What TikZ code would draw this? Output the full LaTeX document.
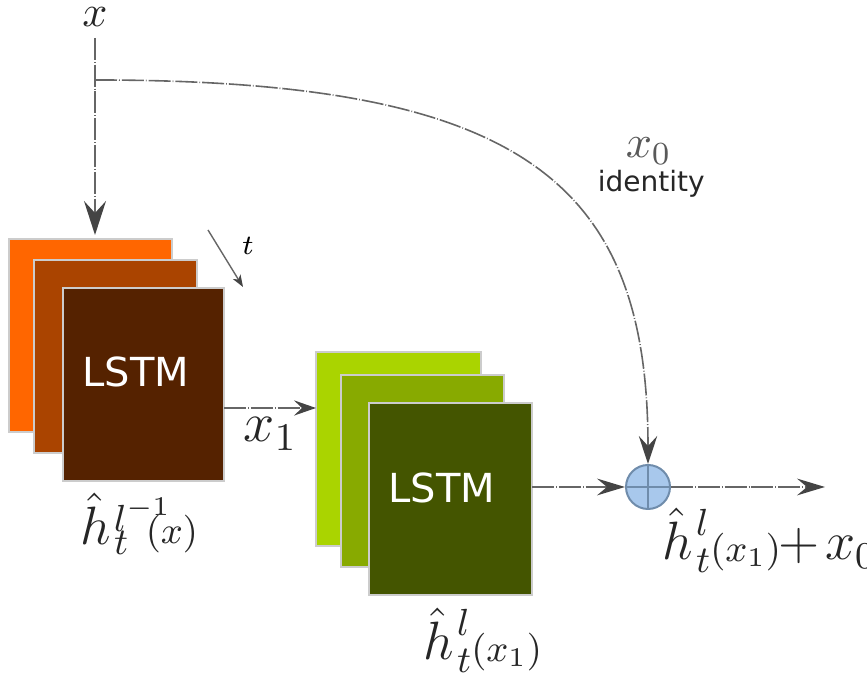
\RequirePackage{fix-cm}
\documentclass[tikz,border=0pt]{standalone}
\usepackage{fontspec}
\newfontfamily\dejavu{DejaVu Sans}
\usetikzlibrary{arrows.meta}

\definecolor{orA}{HTML}{FF6600}
\definecolor{orB}{HTML}{AA4400}
\definecolor{orC}{HTML}{552200}
\definecolor{grA}{HTML}{AAD400}
\definecolor{grB}{HTML}{88AA00}
\definecolor{grC}{HTML}{445500}
\definecolor{sumfill}{HTML}{A8C8EC}
\definecolor{sumedge}{HTML}{6F8CAB}
\definecolor{wire}{HTML}{666666}
\definecolor{tipcol}{HTML}{444444}

% \hatlabel{sup}{sup raise}{sub}{sub drop}: compact sub/superscripts on \hat{h}
\newcommand{\hatlabel}[4]{%
  \hat{h}\mkern1mu\rlap{\raisebox{#2}{$\scriptstyle #1$}}\raisebox{-#4}{$\scriptstyle #3$}}
% raised argument group inside a subscript
\newcommand{\liftsub}[1]{\raisebox{2.75pt}{$\scriptstyle #1$}}

\begin{document}
\begin{tikzpicture}[x=0.25pt,y=-0.25pt,
  layer/.style={draw=black!20, line width=0.35pt, inner sep=0pt, outer sep=0pt, anchor=north west},
  celltext/.style={text=white, font=\dejavu\fontsize{10}{12}\selectfont, inner sep=0pt},
  flow/.style={draw=wire, line width=0.4pt,
    dash pattern=on 5.5pt off 0.5pt on 0.2pt off 0.5pt,
    -{Stealth[length=7pt,width=4.2pt,inset=2.5pt,color=tipcol]}},
  mathlbl/.style={inner sep=0pt, anchor=base west, text=black!85},
  bigmath/.style={font=\fontsize{13.5}{16}\selectfont}]
\useasboundingbox (0,0) rectangle (867,680);

% first LSTM layer (stack of three time steps)
\node[layer, fill=orA, minimum width=40.75pt, minimum height=48.25pt] (oa) at (9,239) {};
\node[layer, fill=orB, minimum width=40.75pt, minimum height=48.25pt] (ob) at (34,260) {};
\node[layer, fill=orC, minimum width=40.25pt, minimum height=48.25pt] (oc) at (63,288) {};
\node[celltext] (lstmA) at (136,372) {LSTM};

% second LSTM layer
\node[layer, fill=grA, minimum width=41.25pt, minimum height=48.5pt] (ga) at (316,352) {};
\node[layer, fill=grB, minimum width=40.75pt, minimum height=48pt] (gb) at (341,375) {};
\node[layer, fill=grC, minimum width=40.75pt, minimum height=48pt] (gc) at (369,403) {};
\node[celltext] (lstmB) at (442,488) {LSTM};

% summation node
\node[circle, draw=sumedge, fill=sumfill, line width=0.5pt, minimum size=11pt, inner sep=0pt,
  path picture={\draw[sumedge, line width=0.5pt]
    (path picture bounding box.north) -- (path picture bounding box.south)
    (path picture bounding box.west) -- (path picture bounding box.east);}] (plus) at (648,487) {};

% input
\node[mathlbl, anchor=base, font=\fontsize{11}{13}\selectfont] (xin) at (95,27) {$x$};
\coordinate (split) at (95,80);
\draw[flow, shorten <=2.5pt, shorten >=1pt, -{Stealth[length=8.5pt,width=5.5pt,inset=3pt,color=tipcol]}]
  (xin.south) -- (xin |- oa.north);

% identity shortcut
\draw[flow, -{Stealth[length=7pt,width=4.6pt,inset=2.5pt,color=tipcol]}]
  (split) .. controls (520,80) and (648,180) .. (plus.north);
\node[mathlbl, text=black!65, font=\fontsize{11.5}{13}\selectfont] (xzero) at (625,158) {$x_0$};
\node[inner sep=0pt, anchor=base west, font=\dejavu\fontsize{7}{8}\selectfont, text=black!85] (ident) at (597,192) {identity};

% time direction
\coordinate (ta) at (208,230);
\coordinate (tb) at (243,287);
\draw[draw=wire, line width=0.35pt, -{Stealth[length=3pt,width=2.2pt,inset=0.8pt,color=tipcol]}] (ta) -- (tb);
\node[inner sep=0pt, font=\fontsize{7}{8}\selectfont] (tlbl) at (248,246) {$t$};

% layer 1 -> layer 2
\coordinate (x1lvl) at (0,408);
\draw[flow, -{Stealth[length=5.5pt,width=3.8pt,inset=2pt,color=tipcol]}] (oc.east |- x1lvl) -- (ga.west |- x1lvl);
\node[mathlbl, font=\fontsize{14}{16}\selectfont] (xone) at (243,442) {$x_1$};

% layer 2 -> sum -> output
\coordinate (out) at (825,487);
\draw[flow] (gc.east |- plus) -- (plus.west);
\draw[flow] (plus.east) -- (out);

% hidden state labels
\node[mathlbl, bigmath] (hA) at (80,545)
  {$\hatlabel{l^{-1}}{3.25pt}{t\ \liftsub{(x)}}{2.5pt}$};
\node[mathlbl, bigmath] (hB) at (423,660)
  {$\hatlabel{l}{6pt}{t\liftsub{(x_1)}}{3.25pt}$};
\node[mathlbl, bigmath] (hOut) at (662,560)
  {$\hatlabel{l}{6pt}{t\liftsub{(x_1)}}{3.25pt}\mkern-5mu+\mkern-2mu x_0$};
\end{tikzpicture}
\end{document}
